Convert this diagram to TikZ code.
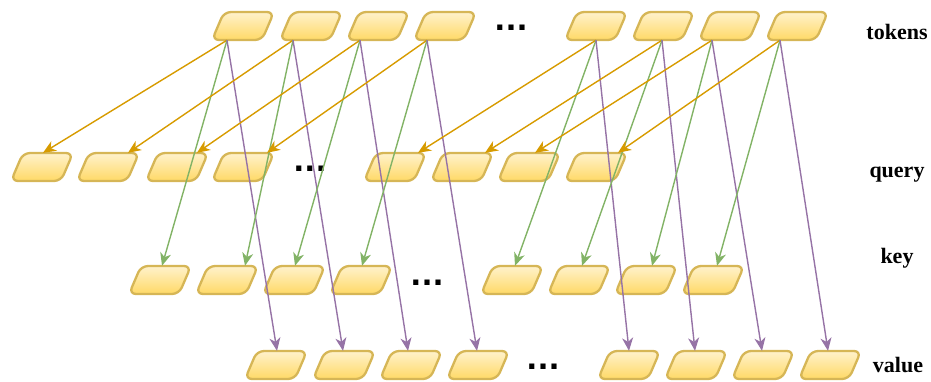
\documentclass[tikz,border=0pt]{standalone}
\usepackage{fontspec}
\setmainfont{Liberation Serif}
\newfontfamily\dotfont{DejaVu Sans}
\usetikzlibrary{calc,arrows.meta}

\definecolor{cellfillA}{HTML}{FFF2CC}
\definecolor{cellfillB}{HTML}{FFD966}
\definecolor{cellline}{HTML}{D6B656}
\definecolor{qline}{HTML}{D79B00}
\definecolor{kline}{HTML}{82B366}
\definecolor{vline}{HTML}{9673A6}

\tikzset{
  cellbox/.style={rectangle,minimum width=62pt,minimum height=28pt,inner sep=0pt},
  cellshape/.style={draw=cellline,line width=2.3pt,rounded corners=7pt,
    top color=cellfillA,bottom color=cellfillB},
  link/.style={line width=1.4pt,-{Stealth[length=13pt,width=11pt,inset=4pt]}},
  qlink/.style={link,draw=qline,fill=qline},
  klink/.style={link,draw=kline,fill=kline},
  vlink/.style={link,draw=vline,fill=vline},
  rowlabel/.style={font=\bfseries\fontsize{22}{24}\selectfont,inner sep=0pt},
  ellip/.style={font=\dotfont\bfseries\fontsize{29}{30}\selectfont,inner sep=0pt,
    anchor=base},
}

% a slanted, rounded cell with a named box for the connectors
\newcommand\cell[3]{%
  \node[cellbox] (#1) at (#2,#3) {};
  \path[cellshape] ($(#1)+(-19,-14)$) -- ($(#1)+(31,-14)$)
    -- ($(#1)+(19,14)$) -- ($(#1)+(-31,14)$) -- cycle;}

\begin{document}
\begin{tikzpicture}[x=1pt,y=-1pt]
\useasboundingbox (0,0) rectangle (931,381);

% tokens
\foreach \n/\x in {1/243,2/311,3/378,4/445,5/596,6/663,7/730,8/797}
  {\cell{t\n}{\x}{26}}
% query
\foreach \n/\x in {1/42,2/108,3/177,4/243,5/395,6/462,7/529,8/596}
  {\cell{q\n}{\x}{167}}
% key
\foreach \n/\x in {1/160,2/227,3/294,4/361,5/512,6/579,7/646,8/713}
  {\cell{k\n}{\x}{280}}
% value
\foreach \n/\x in {1/276,2/344,3/411,4/478,5/629,6/696,7/763,8/830}
  {\cell{v\n}{\x}{365}}

% ellipses between the two groups of each row
\node[ellip] (dt) at (511,30) {...};
\node[ellip] (dq) at (310,171) {...};
\node[ellip] (dk) at (427,285) {...};
\node[ellip] (dv) at (543,369) {...};

% row labels
\node[rowlabel] (lt) at (897,32) {tokens};
\node[rowlabel] (lq) at (897,175) {query};
\node[rowlabel] (lk) at (897,258) {key};
\node[rowlabel] (lv) at (898,365) {value};

% projections of every token into query, key and value
\foreach \n/\s/\q/\k/\v in {1/-16/1/2/1, 2/-18/20/18/-1, 3/-18/20/1/-3,
    4/-18/24/1/-1, 5/0/23/3/0, 6/-1/23/3/-1, 7/-18/6/6/-1, 8/-17/22/4/-2}{
  \draw[qlink] ([xshift=\s pt]t\n.south) -- ([xshift=\q pt]q\n.north);
  \draw[klink] ([xshift=\s pt]t\n.south) -- ([xshift=\k pt]k\n.north);
  \draw[vlink] ([xshift=\s pt]t\n.south) -- ([xshift=\v pt]v\n.north);
}
\end{tikzpicture}
\end{document}
